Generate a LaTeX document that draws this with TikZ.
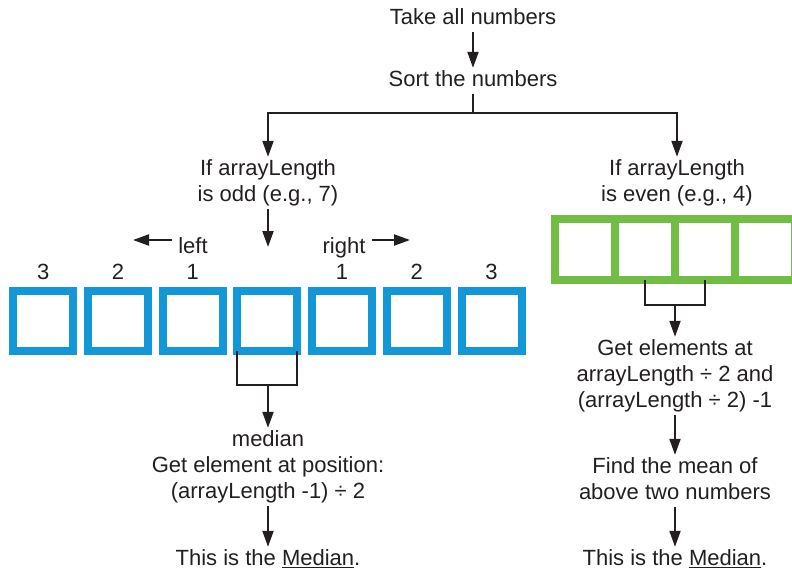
\documentclass[tikz,border=0pt]{standalone}
\usepackage{fontspec}
\setmainfont{Liberation Sans}
\usetikzlibrary{arrows.meta}

\definecolor{oddblue}{RGB}{18,152,214}
\definecolor{evengreen}{RGB}{114,190,68}
\definecolor{ink}{RGB}{35,31,32}

\begin{document}
\begin{tikzpicture}[x=1pt,y=-1pt,line join=miter,>={Triangle[length=16pt,width=11pt]},
  txt/.style={anchor=north,inner sep=0pt,align=center,text=ink,font=\fontsize{22}{26}\selectfont},
  num/.style={anchor=base,inner sep=0pt,text=ink,font=\fontsize{22}{26}\selectfont},
  conn/.style={draw=ink,line width=2pt},
  oddcell/.style={draw=oddblue,line width=8pt,minimum width=60pt,minimum height=60pt,outer sep=0pt,inner sep=0pt},
  evencell/.style={draw=evengreen,line width=8pt,minimum width=60pt,minimum height=61pt,outer sep=0pt,inner sep=0pt}]
\useasboundingbox (0,0) rectangle (792,571);

% top of the flow
\node[txt] (take) at (473,5.8) {\strut Take all numbers};
\node[txt] (sort) at (473,67.8) {\strut Sort the numbers};
\node[txt] (odd) at (268,156.8) {\strut If arrayLength\\\strut is odd (e.g., 7)};
\node[txt] (even) at (677,156.8) {\strut If arrayLength\\\strut is even (e.g., 4)};
\coordinate (split) at (473,113);

\draw[conn,->] (take) -- (sort);
\draw[conn] (sort) -- (split);
\draw[conn,->] (split) -| (odd);
\draw[conn,->] (split) -| (even);

% odd case: seven cells, the middle one is picked
\foreach \i in {1,...,7}
  \node[oddcell] (b\i) at ({43.3+74.7*(\i-1)},320.8) {};
\foreach \i/\lab in {1/3,2/2,3/1,5/1,6/2,7/3}
  \node[num] (n\i) at ([yshift=11.3pt]b\i.north) {\lab};

\node[txt] (left) at (193,235.1) {\strut left};
\node[txt] (right) at (344,235.1) {\strut right};
\coordinate (pick) at (268,247);
\coordinate (lefttip) at (133,240);
\coordinate (righttip) at (410,240);
\draw[conn,->] (odd) -- (pick);
\draw[conn,->] ([xshift=-6pt]left.west |- lefttip) -- (lefttip);
\draw[conn,->] ([xshift=6pt]right.east |- righttip) -- (righttip);

\coordinate (mb) at (268,385);
\draw[conn] (b4.south west) |- (mb) -| (b4.south east);

\node[txt] (median) at (268,427.8) {\strut median\\\strut Get element at position:\\\strut (arrayLength -1) ÷ 2};
\node[txt] (mlast) at (268,546.8) {\strut This is the \underline{Median}.};
\draw[conn,->] (mb) -- (median);
\draw[conn,->] (median) -- (mlast);

% even case: four cells, the two middle ones are picked
\foreach \i in {1,...,4}
  \node[evencell] (g\i) at ({585+60*(\i-1)},249) {};

\coordinate (gb) at (675,305);
\draw[conn] (g2.south) |- (gb) -| (g3.south);

\node[txt] (elems) at (675,336.8) {\strut Get elements at\\\strut arrayLength ÷ 2 and\\\strut (arrayLength ÷ 2) -1};
\node[txt] (mean) at (675,454.8) {\strut Find the mean of\\\strut above two numbers};
\node[txt] (rlast) at (675,546.8) {\strut This is the \underline{Median}.};
\draw[conn,->] (gb) -- (elems);
\draw[conn,->] (elems) -- (mean);
\draw[conn,->] (mean) -- (rlast);
\end{tikzpicture}
\end{document}
